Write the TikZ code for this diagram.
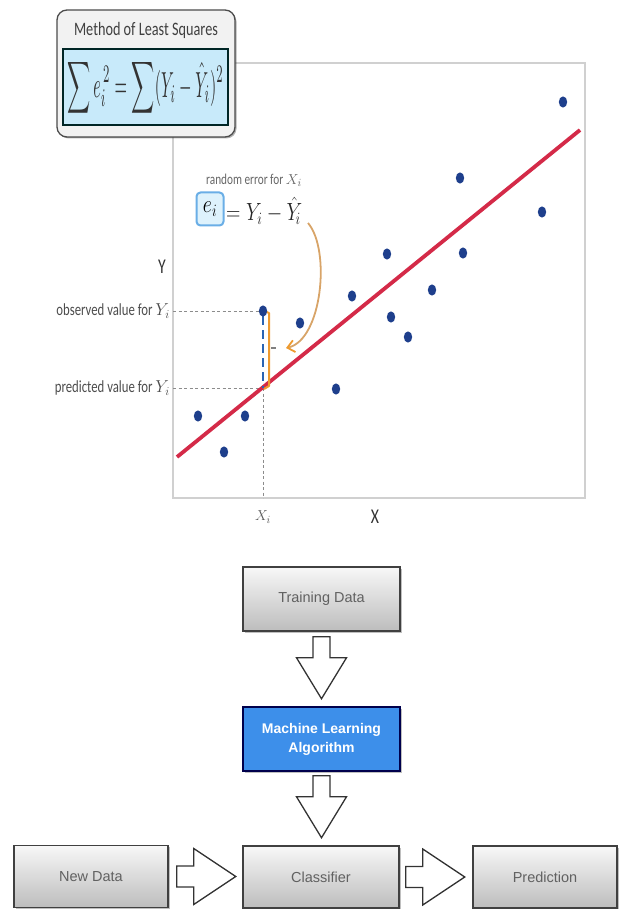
\documentclass[tikz,border=0pt]{standalone}
\usepackage{fontspec}
\usepackage{graphicx}
\setmainfont{Carlito}
\newfontfamily\cf[FakeStretch=0.75]{Carlito}
\newfontfamily\hv{Liberation Sans}
\usetikzlibrary{arrows.meta,shadows,calc}
\definecolor{dotblue}{HTML}{1E3F8C}
\definecolor{fitred}{HTML}{D42A48}
\definecolor{errorange}{HTML}{EE9A2E}
\definecolor{curvetan}{HTML}{D8A468}
\definecolor{eqblue}{HTML}{C8EAFA}
\definecolor{eboxblue}{HTML}{6AAEE6}
\definecolor{mlblue}{HTML}{3D8FEA}
\definecolor{framegrey}{HTML}{D0D0D0}
\definecolor{dashblue}{HTML}{2A64B4}
\tikzset{
  lbl/.style={font=\cf\fontsize{17}{19}\selectfont, text=black!70, inner sep=1pt},
  axlbl/.style={font=\cf\fontsize{21}{23}\selectfont, text=black!80, inner sep=0pt},
  guide/.style={black!45, dash pattern=on 3pt off 2.5pt, line width=0.9pt},
  flowbox/.style={draw=black!75, line width=1.5pt, top color=black!3, bottom color=black!26,
    minimum width=157, minimum height=64, inner sep=0pt,
    font=\hv\fontsize{14.5}{17}\selectfont, text=black!62,
    drop shadow={shadow xshift=1.5pt, shadow yshift=-1.5pt, opacity=0.25, fill=black}},
  barrow/.style={draw=black!80, fill=white, line width=1.3pt, line join=miter},
  pics/downarrow/.style={code={\draw[barrow] (-8.5,0) -- (8.5,0) -- (8.5,21) -- (25,21) -- (0,62) -- (-25,21) -- (-8.5,21) -- cycle;}},
  pics/rightarrow/.style={code={\draw[barrow] (0,-10.5) -- (17,-10.5) -- (17,-28) -- (59,0) -- (17,28) -- (17,10.5) -- (0,10.5) -- cycle;}}
}
\begin{document}
\begin{tikzpicture}[x=1pt,y=-1pt]
\useasboundingbox (0,0) rectangle (620,909);
% ---------- plot frame ----------
\draw[framegrey, line width=1.5pt] (173,63) rectangle (585,498);
% guides
\draw[guide] (173,311) -- (263,311);
\draw[guide] (173,388) -- (263,388);
\draw[guide] (263,388) -- (263,498);
% fitted line
\draw[fitred, line width=3.8pt] (177,457) -- (580,130);
% error segment
\draw[dashblue, line width=2.5pt, dash pattern=on 9pt off 5pt] (263,316) -- (263,388);
\draw[errorange, line width=2pt, line join=round] (264,311) -- (269,313) -- (269,386) -- (264,389);
\draw[black!50, line width=1.2pt] (271,348) -- (276,348);
% dots
\foreach \p in {(563,102),(460,178),(542,212),(387,254),(463,253),(352,296),(432,290),(391,317),(408,337),(300,323),(336,389),(245,416),(198,416),(224,452),(263,311)}
  \fill[dotblue] \p ellipse [x radius=4.2, y radius=5.6];
% labels
\node[lbl, anchor=east] (obs) at (171,311) {observed value for $Y_i$};
\node[lbl, anchor=east] (pred) at (171,388) {predicted value for $Y_i$};
\node[axlbl] (ylab) at (162,267) {Y};
\node[axlbl] (xlab) at (375,517) {X};
\node[font=\fontsize{15}{17}\selectfont, text=black!65, inner sep=0pt] (xi) at (263,517) {$X_i$};
% random error equation
\node[font=\cf\fontsize{15}{17}\selectfont, text=black!60, inner sep=0pt] (rerr) at (254,180) {random error for $X_i$};
\node[draw=eboxblue, line width=2pt, fill=eqblue!60, rounded corners=4pt, minimum width=27, minimum height=33, inner sep=0pt] (ebox) at (210,209)
  {\fontsize{27}{30}\selectfont\scalebox{0.8}[1]{$e_i$}};
\node[anchor=west, inner sep=0pt, font=\fontsize{26}{30}\selectfont, text=black!85] (eqr) at (226,211)
  {\scalebox{0.8}[1]{$=Y_i-\hat{Y}_{\!i}$}};
\coordinate (cstart) at (308,223);
\coordinate (cend) at (286,348);
\draw[curvetan, line width=1.8pt, -{Straight Barb[length=7pt,width=12pt,color=errorange]}] (cstart) .. controls (331,250) and (322,340) .. (cend);
% least squares box
\node[draw=black!70, line width=1.3pt, fill=black!5, rounded corners=10pt, minimum width=178, minimum height=127,
  drop shadow={shadow xshift=1.5pt, shadow yshift=-1.5pt, opacity=0.3, fill=black}] (lsbox) at (146,73.5) {};
\node[draw=black!70!teal, line width=1.4pt, fill=eqblue, minimum width=165, minimum height=76, inner sep=0pt] (eqbox) at (145.5,87) {};
\node[font=\cf\fontsize{19}{21}\selectfont, text=black!75, inner sep=0pt] (lstitle) at (146,30) {Method of Least Squares};
\node[inner sep=0pt, text=black!80] (lseq) at (145.5,88) {\resizebox*{156pt}{58pt}{$\displaystyle\sum e_i^{\,2}=\sum(Y_i-\hat{Y}_i)^2$}};
% ---------- flow chart ----------
\node[flowbox] (td) at (321.5,599) {Training Data};
\node[flowbox, top color=mlblue, bottom color=mlblue, draw=black!70!blue, text=white, font=\hv\bfseries\fontsize{14}{19}\selectfont, align=center] (ml) at (321.5,739) {Machine Learning\\Algorithm};
\node[flowbox, minimum width=156, minimum height=62] (cl) at (321,877) {Classifier};
\node[flowbox, minimum width=154, minimum height=62] (nd) at (91,876.5) {New Data};
\node[flowbox, minimum width=144, minimum height=62] (pr) at (545,877) {Prediction};
\pic at ($(td.south)+(0,5)$) {downarrow};
\pic at ($(ml.south)+(0,4)$) {downarrow};
\pic at ($(nd.east)+(8,0)$) {rightarrow};
\pic at ($(cl.east)+(6,0)$) {rightarrow};
\end{tikzpicture}
\end{document}
